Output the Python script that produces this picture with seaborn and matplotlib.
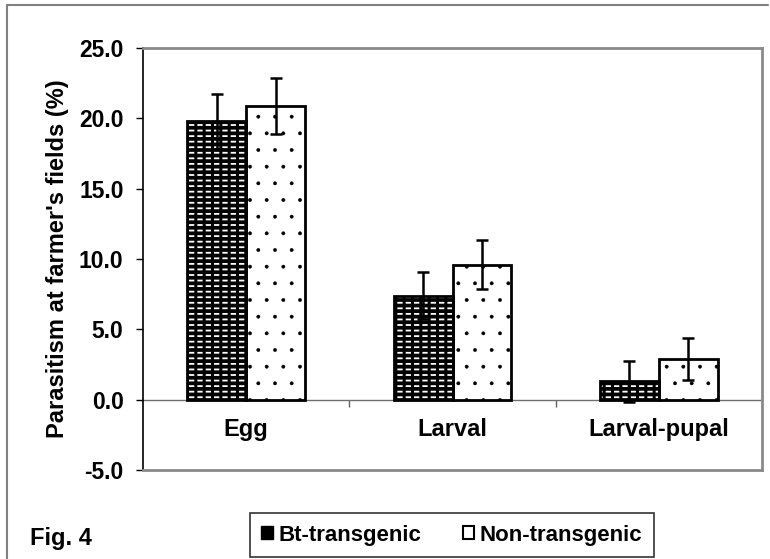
import numpy as np
import pandas as pd
import matplotlib
matplotlib.use("Agg")
import matplotlib.pyplot as plt
from matplotlib.patches import Rectangle, Patch
from matplotlib.lines import Line2D
from matplotlib.ticker import FormatStrFormatter, FixedLocator
import seaborn as sns

# Data
stages = ["Egg", "Larval", "Larval-pupal"]
types = ["Bt-transgenic", "Non-transgenic"]
bt_mean = [19.8, 7.4, 1.3]
bt_err = [1.95, 1.7, 1.45]
non_mean = [20.9, 9.6, 2.9]
non_err = [2.0, 1.75, 1.5]
yticks = [-5, 0, 5, 10, 15, 20, 25]

df = pd.DataFrame({
    "stage": stages * 2,
    "type": [types[0]] * len(stages) + [types[1]] * len(stages),
    "value": bt_mean + non_mean,
})

sns.set_theme(style="white")
plt.rcParams["font.family"] = ["Liberation Sans", "DejaVu Sans"]
plt.rcParams["font.weight"] = "bold"
plt.rcParams["text.color"] = "black"
plt.rcParams["axes.labelcolor"] = "black"
plt.rcParams["xtick.color"] = "black"
plt.rcParams["ytick.color"] = "black"
plt.rcParams["hatch.linewidth"] = 1.0


def hatch_lw(patch, lw):
    if hasattr(patch, "set_hatch_linewidth"):
        patch.set_hatch_linewidth(lw)


fig = plt.figure(figsize=(7.7, 5.59), dpi=100)
ax = fig.add_axes([143 / 770, 1 - 470 / 559, (762 - 143) / 770, (470 - 48) / 559])

sns.barplot(data=df, x="stage", y="value", hue="type", order=stages, hue_order=types,
            palette=["black", "white"], width=0.57, errorbar=None, legend=False,
            edgecolor="black", linewidth=2, saturation=1, ax=ax)

# Bt bars: black with white dashes, Non bars: white with black dots
for p in ax.containers[0]:
    p.set_edgecolor("white")
    p.set_linewidth(0)
    p.set_hatch("---")
    hatch_lw(p, 1.3)
    over = Rectangle(p.get_xy(), p.get_width(), p.get_height(), fill=False,
                     edgecolor="black", linewidth=2, hatch="||", zorder=p.get_zorder() + 0.1)
    hatch_lw(over, 2.2)
    ax.add_patch(over)
for p in ax.containers[1]:
    p.set_hatch(".")
    hatch_lw(p, 0.3)

for cont, errs in zip(ax.containers, [bt_err, non_err]):
    xs = [p.get_x() + p.get_width() / 2 for p in cont]
    ys = [p.get_height() for p in cont]
    ax.errorbar(xs, ys, yerr=errs, fmt="none", ecolor="black", elinewidth=1.8,
                capsize=4, capthick=1.8, zorder=5)

ymin, ymax = -5, 25
ax.set_ylim(ymin, ymax)
ax.set_xlim(-0.5, len(stages) - 0.5)
ax.set_yticks(yticks)
ax.yaxis.set_major_formatter(FormatStrFormatter("%.1f"))
ax.tick_params(axis="y", direction="out", length=5, width=1, pad=9, labelsize=16.5, left=True)
ax.set_xticks([])
ax.set_xlabel("")
ax.set_ylabel("Parasitism at farmer's fields (%)", fontsize=17, fontweight="bold", labelpad=7)

ax.spines["left"].set_color("black")
ax.spines["left"].set_linewidth(1.2)
for s in ["top", "right", "bottom"]:
    ax.spines[s].set_color("#8a8a8a")
    ax.spines[s].set_linewidth(2)
    ax.spines[s].set_visible(True)

# category axis crossing at zero
sec = ax.secondary_xaxis((0 - ymin) / (ymax - ymin))
sec.set_ticks(range(len(stages)), labels=stages)
sec.xaxis.set_minor_locator(FixedLocator([0.5, 1.5]))
sec.tick_params(axis="x", which="major", length=0, pad=13, labelsize=17)
sec.tick_params(axis="x", which="minor", length=5, width=1, color="#606060", direction="out")
sec.spines["bottom"].set_color("#707070")
sec.spines["bottom"].set_linewidth(1)

handles = [Patch(facecolor="black", edgecolor="black"),
           Patch(facecolor="white", edgecolor="black", linewidth=1.5)]
leg = fig.legend(handles, types, loc="center", bbox_to_anchor=(452 / 770, 1 - 535 / 559),
                 ncol=2, frameon=True, fancybox=False, fontsize=16, handlelength=0.5,
                 handleheight=0.5, handletextpad=0.25, columnspacing=1.9, borderpad=0.5)
leg.get_frame().set_edgecolor("black")
leg.get_frame().set_linewidth(1.2)

fig.text(30 / 770, 1 - 538 / 559, "Fig. 4", fontsize=17, fontweight="bold", ha="left", va="center")

# outer frame
fig.add_artist(Line2D([7 / 770, 7 / 770], [0, 1 - 5 / 559], transform=fig.transFigure,
                      color="#808080", linewidth=1.5))
fig.add_artist(Line2D([7 / 770, 768 / 770], [1 - 5 / 559, 1 - 5 / 559], transform=fig.transFigure,
                      color="#808080", linewidth=1.5))

fig.savefig("out.png", dpi=100)
